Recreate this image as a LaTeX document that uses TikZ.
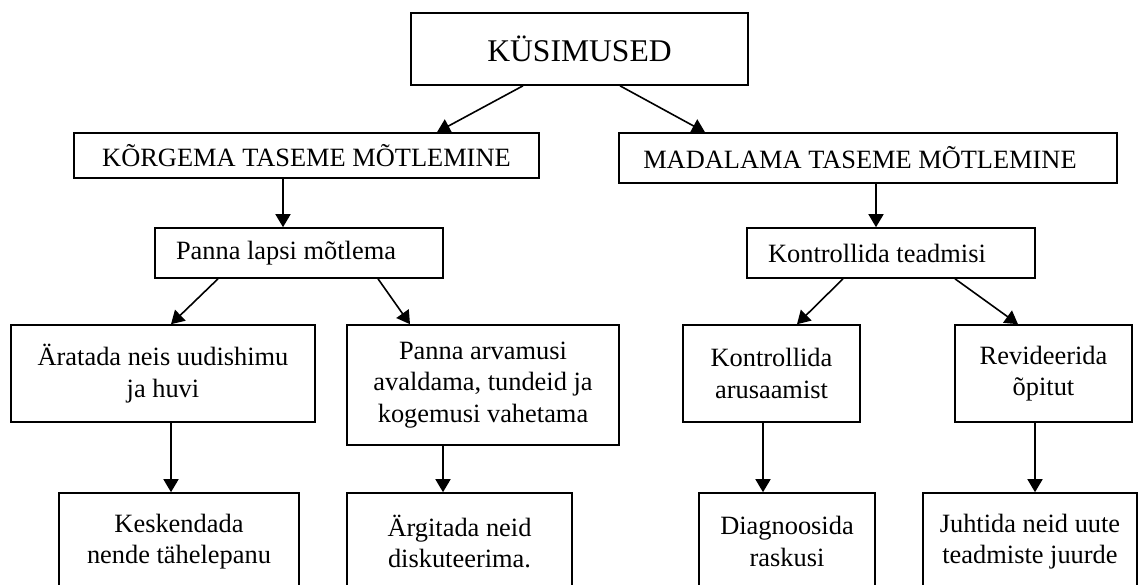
\documentclass[tikz,border=0pt]{standalone}
\usepackage{fontspec}
\setmainfont{Liberation Serif}
\usetikzlibrary{arrows.meta}

\begin{document}
\begin{tikzpicture}[x=0.5pt,y=-0.5pt,
	box/.style={draw, thick, inner sep=0pt, align=center, font=\fontsize{13.2pt}{15.8pt}\selectfont},
	arr/.style={thick, -{Triangle[length=6.5pt,width=7.5pt]}}]

	\clip (0,0) rectangle (1140,584);

	% Top box
	\node[box, minimum width=168.5pt, minimum height=36pt, font=\fontsize{15.8pt}{19pt}\selectfont] (kus) at (579.5,49) {KÜSIMUSED};

	% Draw first level
	\node[box, minimum width=232.5pt, minimum height=22.5pt] (korg) at (306.5,155.5) {KÕRGEMA TASEME MÕTLEMINE};
	\node[box, minimum width=249pt, minimum height=25pt] (mada) at (868,158) {MADALAMA TASEME MÕTLEMINE\hspace*{8pt}};

	% Draw second level
	\node[box, minimum width=144pt, minimum height=25pt] (lapsi) at (299,253) {Panna lapsi mõtlema\hspace*{13pt}};
	\node[box, minimum width=144pt, minimum height=25pt] (teadm) at (891,253) {Kontrollida teadmisi\hspace*{14pt}};

	% Draw third level
	\node[box, minimum width=152pt, minimum height=48.5pt] (urat) at (163,373.5) {Äratada neis uudishimu\\ja huvi};
	\node[box, minimum width=136pt, minimum height=60pt] (arva) at (483,385) {Panna arvamusi\\avaldama, tundeid ja\\kogemusi vahetama};
	\node[box, minimum width=88.5pt, minimum height=48.5pt] (arus) at (771.5,373.5) {Kontrollida\\arusaamist};
	\node[box, minimum width=88.5pt, minimum height=48.5pt] (revi) at (1043.5,373.5) {Revideerida\\õpitut};

	% Draw bottom level (cut by the page)
	\node[box, minimum width=120pt, minimum height=48.5pt] (kesk) at (179,541.5) {Keskendada\\nende tähelepanu};
	\node[box, minimum width=112.5pt, minimum height=48.5pt] (argi) at (459.5,541.5) {Ärgitada neid\\diskuteerima.};
	\node[box, minimum width=88pt, minimum height=48.5pt] (diag) at (787,541.5) {Diagnoosida\\raskusi};
	\node[box, minimum width=107pt, minimum height=48.5pt] (juht) at (1030,541.5) {Juhtida neid uute\\teadmiste juurde};

	% Arrows
	\draw[arr] (kus.south -| 523,0) -- (korg.north -| 437,0);
	\draw[arr] (kus.south -| 620,0) -- (mada.north -| 705,0);
	\draw[arr] (korg.south -| 283,0) -- (lapsi.north -| 283,0);
	\draw[arr] (mada.south -| 876,0) -- (teadm.north -| 876,0);

	\draw[arr] (lapsi.south -| 218,0) -- (urat.north -| 171,0);
	\draw[arr] (lapsi.south -| 378,0) -- (arva.north -| 410,0);
	\draw[arr] (teadm.south -| 843,0) -- (arus.north -| 797,0);
	\draw[arr] (teadm.south -| 955,0) -- (revi.north -| 1018,0);

	\draw[arr] (urat.south -| 171,0) -- (kesk.north -| 171,0);
	\draw[arr] (arva.south -| 443,0) -- (argi.north -| 443,0);
	\draw[arr] (arus.south -| 763,0) -- (diag.north -| 763,0);
	\draw[arr] (revi.south -| 1035,0) -- (juht.north -| 1035,0);

\end{tikzpicture}
\end{document}
